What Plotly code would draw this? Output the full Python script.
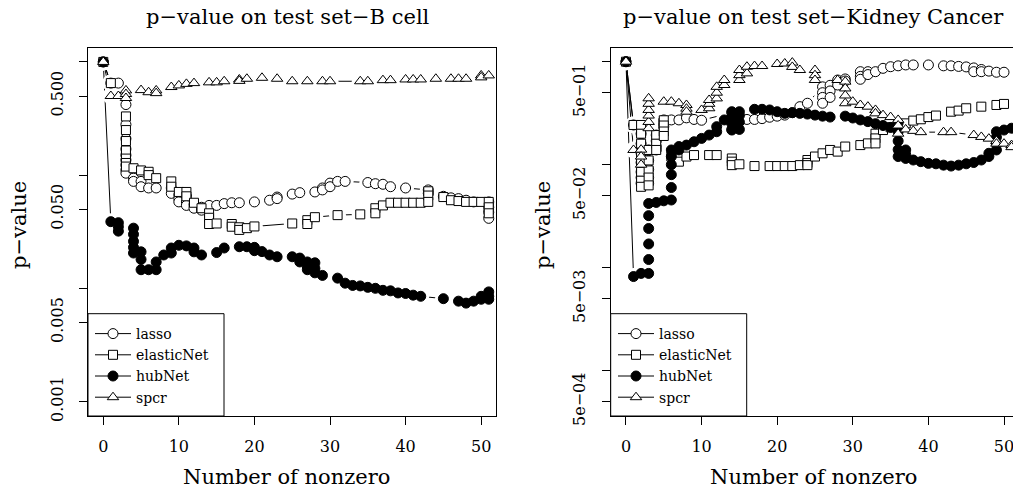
import plotly.graph_objects as go

W, H = 1013, 493

series_names = ["lasso", "elasticNet", "hubNet", "spcr"]

# ---------------- B cell panel ----------------
lasso_b_x = [0, 1, 2, 3, 3, 3, 3, 3, 3, 3, 3, 3, 4, 4, 5, 5, 6, 7, 9, 9, 10, 10, 10,
             11, 11, 11, 12, 12, 13, 13, 14, 15, 16, 17, 18, 20, 22, 23, 23, 25, 26,
             28, 29, 29, 30, 30, 31, 32, 35, 36, 37, 38, 40, 43, 43, 45, 46, 47, 48,
             49, 51, 51, 51, 51]
lasso_b_y = [1.0, 0.65, 0.65, 0.42, 0.28, 0.21, 0.17, 0.15, 0.136, 0.123, 0.111, 0.104,
             0.094, 0.088, 0.088, 0.079, 0.077, 0.077, 0.077, 0.069, 0.067, 0.062, 0.058,
             0.065, 0.058, 0.054, 0.055, 0.051, 0.052, 0.049, 0.054, 0.054, 0.056, 0.057,
             0.057, 0.058, 0.060, 0.064, 0.062, 0.068, 0.070, 0.071, 0.077, 0.074, 0.085,
             0.079, 0.088, 0.088, 0.086, 0.084, 0.083, 0.079, 0.077, 0.074, 0.069, 0.065,
             0.063, 0.062, 0.060, 0.058, 0.058, 0.052, 0.047, 0.0415]

elastic_b_x = [0, 1, 3, 3, 3, 3, 3, 3, 3, 4, 5, 6, 6, 7, 9, 9, 10, 11, 11, 12, 13, 14, 14,
               14, 15, 17, 17, 18, 18, 19, 20, 25, 27, 27, 28, 31, 34, 36, 36, 37, 38, 39,
               40, 41, 42, 43, 43, 43, 45, 46, 47, 48, 49, 50, 51, 51, 51]
elastic_b_y = [1.0, 0.65, 0.33, 0.25, 0.2, 0.165, 0.14, 0.128, 0.119, 0.115, 0.11, 0.107,
               0.1, 0.094, 0.088, 0.079, 0.071, 0.071, 0.065, 0.057, 0.051, 0.046, 0.042,
               0.037, 0.0374, 0.037, 0.035, 0.0346, 0.0328, 0.034, 0.0352, 0.0374, 0.040,
               0.037, 0.0425, 0.0443, 0.045, 0.051, 0.046, 0.054, 0.057, 0.057, 0.057, 0.057,
               0.057, 0.072, 0.066, 0.058, 0.064, 0.060, 0.059, 0.058, 0.058, 0.058, 0.058,
               0.052, 0.046]

hub_b_x = [0, 1, 2, 2, 2, 4, 4, 4, 4, 4, 5, 5, 5, 6, 7, 7, 8, 9, 9, 10, 11, 12, 12, 13, 15,
           16, 18, 19, 20, 20, 21, 22, 23, 25, 26, 26, 27, 27, 27, 28, 28, 28, 29, 31, 32,
           33, 34, 35, 36, 37, 38, 39, 40, 41, 42, 45, 47, 48, 49, 50, 50, 51, 51, 51]
hub_b_y = [1.0, 0.0388, 0.038, 0.035, 0.032, 0.034, 0.030, 0.026, 0.023, 0.0205, 0.021,
           0.018, 0.0146, 0.0146, 0.0171, 0.0146, 0.0197, 0.0227, 0.0205, 0.024, 0.0237,
           0.0227, 0.021, 0.0197, 0.0207, 0.0227, 0.0233, 0.0233, 0.023, 0.0215, 0.0211,
           0.0197, 0.019, 0.019, 0.0185, 0.0171, 0.0171, 0.0155, 0.0146, 0.0168, 0.015,
           0.0137, 0.013, 0.0123, 0.0111, 0.0106, 0.0105, 0.0102, 0.0100, 0.0096, 0.0095,
           0.0091, 0.0090, 0.0087, 0.0085, 0.0081, 0.0077, 0.0074, 0.0077, 0.0085, 0.0080,
           0.0093, 0.0085, 0.0080]

spcr_b_x = [0, 1, 2, 3, 3, 3, 5, 6, 7, 7, 9, 10, 11, 12, 14, 15, 16, 18, 18, 19, 21, 23, 25,
            27, 29, 30, 34, 35, 37, 38, 40, 41, 42, 44, 46, 47, 48, 50, 50, 51]
spcr_b_y = [1.0, 0.50, 0.50, 0.56, 0.52, 0.48, 0.564, 0.54, 0.56, 0.53, 0.60, 0.62, 0.64,
            0.65, 0.66, 0.66, 0.675, 0.70, 0.68, 0.71, 0.724, 0.71, 0.675, 0.675, 0.675,
            0.675, 0.675, 0.675, 0.69, 0.69, 0.70, 0.70, 0.70, 0.71, 0.71, 0.71, 0.71,
            0.76, 0.73, 0.76]

# ---------------- Kidney Cancer panel ----------------
lasso_k_x = [0, 1, 2, 2, 2, 2, 2, 2, 2, 3, 3, 3, 3, 3, 4, 4, 4, 4, 5, 5, 5, 6, 7, 8, 9, 10,
             14, 14, 14, 15, 16, 17, 18, 19, 20, 21, 22, 23, 24, 26, 26, 26, 26, 27, 27, 27,
             28, 28, 29, 29, 31, 31, 31, 32, 32, 33, 34, 35, 36, 37, 38, 40, 42, 43, 44, 45,
             46, 46, 47, 47, 48, 49, 50]
lasso_k_y = [1.0, 0.243, 0.2, 0.16, 0.13, 0.105, 0.085, 0.075, 0.066, 0.139, 0.11, 0.09,
             0.075, 0.066, 0.194, 0.17, 0.15, 0.139, 0.272, 0.25, 0.234, 0.272, 0.272,
             0.285, 0.275, 0.27, 0.32, 0.27, 0.22, 0.272, 0.275, 0.275, 0.28, 0.289, 0.296,
             0.303, 0.32, 0.366, 0.395, 0.57, 0.5, 0.45, 0.395, 0.59, 0.52, 0.45, 0.664,
             0.594, 0.68, 0.65, 0.8, 0.72, 0.675, 0.8, 0.75, 0.8, 0.862, 0.894, 0.912, 0.93,
             0.93, 0.93, 0.912, 0.912, 0.9, 0.89, 0.87, 0.8, 0.84, 0.8, 0.81, 0.79, 0.79]

elastic_k_x = [0, 1, 2, 2, 2, 2, 2, 2, 2, 2, 3, 3, 3, 3, 3, 4, 4, 4, 5, 5, 5, 5, 6, 7, 8, 9,
               11, 12, 14, 14, 14, 15, 17, 19, 20, 21, 22, 23, 24, 24, 24, 25, 26, 27, 28,
               29, 31, 32, 33, 33, 33, 34, 35, 36, 37, 38, 39, 40, 41, 43, 44, 45, 47, 49, 50]
elastic_k_y = [1.0, 0.243, 0.243, 0.2, 0.16, 0.13, 0.105, 0.085, 0.07, 0.061, 0.139, 0.11,
               0.088, 0.075, 0.063, 0.194, 0.16, 0.139, 0.27, 0.24, 0.21, 0.19, 0.12, 0.107,
               0.12, 0.124, 0.124, 0.124, 0.115, 0.107, 0.099, 0.101, 0.097, 0.097, 0.097,
               0.097, 0.097, 0.099, 0.111, 0.104, 0.099, 0.12, 0.129, 0.139, 0.134, 0.15,
               0.155, 0.161, 0.2, 0.18, 0.161, 0.217, 0.231, 0.243, 0.252, 0.268, 0.276,
               0.29, 0.30, 0.327, 0.335, 0.353, 0.366, 0.38, 0.389]

hub_k_x = [0, 1, 2, 3, 3, 3, 3, 3, 3, 4, 5, 6, 6, 6, 6, 6, 6, 7, 7, 8, 9, 10, 11, 12, 12, 13,
           14, 14, 14, 14, 15, 15, 15, 15, 17, 18, 19, 20, 21, 22, 23, 24, 25, 26, 27, 29,
           30, 31, 32, 33, 34, 35, 36, 36, 36, 36, 36, 37, 37, 37, 38, 39, 40, 41, 42, 43,
           44, 45, 46, 47, 48, 48, 49, 49, 49, 49, 50, 51]
hub_k_y = [1.0, 0.0082, 0.0088, 0.0088, 0.012, 0.017, 0.024, 0.032, 0.042, 0.043, 0.0446,
           0.0454, 0.06, 0.08, 0.10, 0.12, 0.139, 0.139, 0.15, 0.155, 0.167, 0.18, 0.194,
           0.209, 0.234, 0.272, 0.217, 0.25, 0.29, 0.327, 0.22, 0.26, 0.30, 0.327, 0.345,
           0.345, 0.34, 0.327, 0.315, 0.32, 0.315, 0.31, 0.303, 0.296, 0.29, 0.296, 0.284,
           0.272, 0.262, 0.25, 0.24, 0.23, 0.254, 0.21, 0.17, 0.14, 0.12, 0.139, 0.125,
           0.115, 0.111, 0.107, 0.103, 0.102, 0.099, 0.097, 0.099, 0.102, 0.105, 0.111,
           0.12, 0.129, 0.139, 0.16, 0.185, 0.209, 0.217, 0.226]

spcr_k_x = [0, 1, 2, 2, 2, 3, 3, 3, 3, 3, 3, 5, 6, 7, 8, 8, 8, 10, 11, 11, 11, 12, 12, 12,
            13, 13, 15, 15, 15, 16, 16, 17, 18, 20, 21, 22, 22, 23, 25, 25, 25, 28, 29, 29,
            29, 29, 30, 31, 32, 33, 33, 34, 35, 36, 36, 36, 37, 38, 39, 42, 43, 46, 47, 48,
            49, 49, 50, 51, 51]
spcr_k_y = [1.0, 0.139, 0.14, 0.12, 0.10, 0.226, 0.26, 0.30, 0.34, 0.39, 0.441, 0.409,
            0.409, 0.395, 0.38, 0.35, 0.327, 0.34, 0.353, 0.39, 0.425, 0.44, 0.50, 0.57,
            0.594, 0.664, 0.664, 0.74, 0.83, 0.77, 0.894, 0.908, 0.908, 0.95, 0.96, 0.98,
            0.89, 0.83, 0.83, 0.74, 0.664, 0.664, 0.64, 0.55, 0.47, 0.395, 0.409, 0.38,
            0.366, 0.34, 0.315, 0.303, 0.29, 0.272, 0.24, 0.20, 0.22, 0.213, 0.207, 0.207,
            0.207, 0.194, 0.186, 0.179, 0.17, 0.16, 0.16, 0.155, 0.148]

b_ticks = [1, 0.5, 0.1, 0.05, 0.01, 0.005, 0.001]
b_ticktext = ["", "0.500", "", "0.050", "", "0.005", "0.001"]
k_ticks = [1, 0.5, 0.1, 0.05, 0.01, 0.005, 0.001, 0.0005]
k_ticktext = ["", "5e\u221201", "", "5e\u221202", "", "5e\u221203", "", "5e\u221204"]
x_ticks = [0, 10, 20, 30, 40, 50]

titles = ["p\u2212value on test set\u2212B cell", "p\u2212value on test set\u2212Kidney Cancer"]
xlab = "Number of nonzero"
ylab = "p\u2212value"

FONT = "DejaVu Serif"

styles = {
    "lasso": dict(symbol="circle", color="white", size=10),
    "elasticNet": dict(symbol="square", color="white", size=9),
    "hubNet": dict(symbol="circle", color="black", size=10),
    "spcr": dict(symbol="triangle-up", color="white", size=10),
}

panels = [
    ("x", "y", "legend", [(lasso_b_x, lasso_b_y), (elastic_b_x, elastic_b_y),
                          (hub_b_x, hub_b_y), (spcr_b_x, spcr_b_y)]),
    ("x2", "y2", "legend2", [(lasso_k_x, lasso_k_y), (elastic_k_x, elastic_k_y),
                             (hub_k_x, hub_k_y), (spcr_k_x, spcr_k_y)]),
]


def marker_of(name):
    st = styles[name]
    return dict(symbol=st["symbol"], size=st["size"], color=st["color"],
                line=dict(color="black", width=1))


fig = go.Figure()
for xa, ya, lg, data in panels:
    # 1) connecting lines (legend entries: line through symbol, like R's legend)
    for name, (xs, ys) in zip(series_names, data):
        fig.add_trace(go.Scatter(
            x=xs, y=ys, name=name, xaxis=xa, yaxis=ya, legend=lg,
            mode="lines+markers", line=dict(color="black", width=1),
            marker=marker_of(name), hoverinfo="skip"))
    # 2) white halos: break the lines near each point (R type = "b")
    for name, (xs, ys) in zip(series_names, data):
        fig.add_trace(go.Scatter(
            x=xs, y=ys, xaxis=xa, yaxis=ya, mode="markers", showlegend=False,
            marker=dict(symbol="circle", size=17, color="white", line=dict(width=0)),
            hoverinfo="skip"))
    # 3) the symbols on top
    for name, (xs, ys) in zip(series_names, data):
        fig.add_trace(go.Scatter(
            x=xs, y=ys, name=name, xaxis=xa, yaxis=ya, mode="markers",
            showlegend=False, marker=marker_of(name), hoverinfo="x+y+name"))


def fx(px):
    return px / W


def fy(py):
    return 1 - py / H


axis_common = dict(showgrid=False, zeroline=False, showline=True, linecolor="black",
                   linewidth=1, ticks="outside", ticklen=8, tickcolor="black", tickwidth=1,
                   automargin=False, ticklabeloverflow="allow",
                   tickfont=dict(family=FONT, size=16, color="black"))

y_dom = [fy(416), fy(48)]

legend_common = dict(xanchor="left", y=fy(318), yanchor="top",
                     bgcolor="rgba(0,0,0,0)", borderwidth=0, itemwidth=36,
                     font=dict(family=FONT, size=14, color="black"), tracegroupgap=0)

fig.update_layout(
    width=W, height=H,
    margin=dict(l=0, r=0, t=0, b=0, autoexpand=False),
    paper_bgcolor="white", plot_bgcolor="white",
    xaxis=dict(domain=[fx(88), fx(496.3)], range=[-2.02, 52.0], tickvals=x_ticks,
               anchor="y", mirror=True, ticklabelstandoff=8, **axis_common),
    yaxis=dict(domain=y_dom, type="log", range=[-3.128, 0.123], tickvals=b_ticks,
               ticktext=b_ticktext, tickangle=-90, anchor="x", mirror=True,
               ticklabelstandoff=10, **axis_common),
    xaxis2=dict(domain=[fx(610.7), 1.0], range=[-2.02, 51.19], tickvals=x_ticks,
                anchor="y2", mirror=True, ticklabelstandoff=8, **axis_common),
    yaxis2=dict(domain=y_dom, type="log", range=[-3.44, 0.133], tickvals=k_ticks,
                ticktext=k_ticktext, tickangle=-90, anchor="x2", mirror=False,
                ticklabelstandoff=10, **axis_common),
    legend=dict(x=fx(90), **legend_common),
    legend2=dict(x=fx(613), **legend_common),
    font=dict(family=FONT, color="black"),
    showlegend=True,
)

# legend frames (white, opaque, drawn above data)
for x0, x1 in [(88, 224), (610.7, 746.7)]:
    fig.add_shape(type="rect", xref="paper", yref="paper",
                  x0=fx(x0), x1=fx(x1), y0=fy(416), y1=fy(313.7),
                  fillcolor="white", line=dict(color="black", width=1), layer="above")

ann = []
for cx, t in [(287.5, titles[0]), (813.5, titles[1])]:
    ann.append(dict(text=t, x=fx(cx), y=fy(17), xref="paper", yref="paper",
                    showarrow=False, xanchor="center", yanchor="middle",
                    font=dict(family=FONT, size=21, color="black")))
for cx in [286, 813]:
    ann.append(dict(text=xlab, x=fx(cx), y=fy(477), xref="paper", yref="paper",
                    showarrow=False, xanchor="center", yanchor="middle",
                    font=dict(family=FONT, size=21, color="black")))
for cx in [19, 543]:
    ann.append(dict(text=ylab, x=fx(cx), y=fy(225), xref="paper", yref="paper",
                    showarrow=False, xanchor="center", yanchor="middle", textangle=-90,
                    font=dict(family=FONT, size=21, color="black")))
fig.update_layout(annotations=ann)

fig.write_html(
    "out.html",
    config={"displayModeBar": False},
    post_script="document.body.style.margin='0px';document.body.style.padding='0px';"
                "document.body.style.overflow='hidden';",
)
